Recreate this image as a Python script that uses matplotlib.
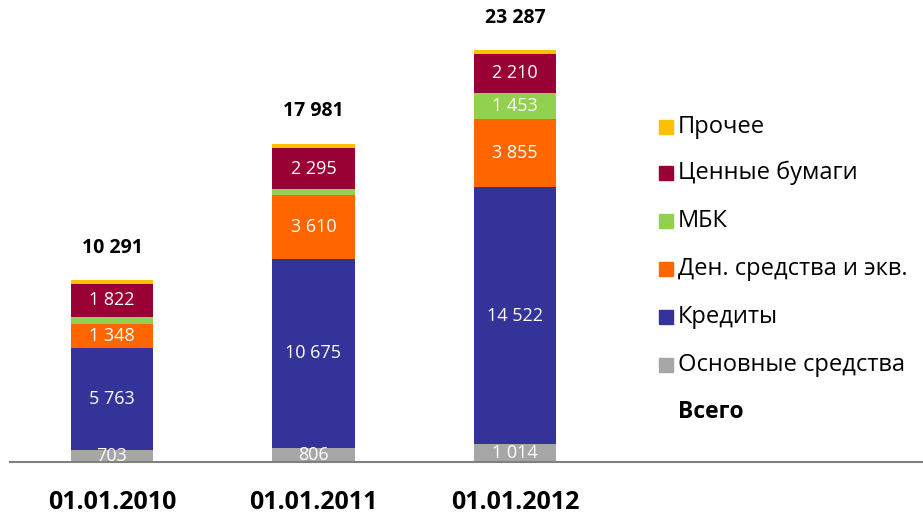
import matplotlib
matplotlib.use("Agg")
import matplotlib.pyplot as plt
from matplotlib.patches import Rectangle

plt.rcParams["font.family"] = ["Open Sans", "DejaVu Sans"]

dates = ["01.01.2010", "01.01.2011", "01.01.2012"]
osnovnye = [703, 806, 1014]
kredity = [5763, 10675, 14522]
den_sredstva = [1348, 3610, 3855]
mbk = [400, 340, 1453]
cennye = [1822, 2295, 2210]
prochee = [255, 255, 233]
totals = [10291, 17981, 23287]

series = [
    ("Основные средства", osnovnye, "#A6A6A6", True),
    ("Кредиты", kredity, "#333399", True),
    ("Ден. средства и экв.", den_sredstva, "#FF6600", True),
    ("МБК", mbk, "#92D050", False),
    ("Ценные бумаги", cennye, "#990033", True),
    ("Прочее", prochee, "#FFC000", False),
]

def fmt(v):
    return f"{v:,}".replace(",", " ")

fig = plt.figure(figsize=(9.23, 5.18), dpi=100)
ax = fig.add_axes([10 / 923, 56 / 518, 913 / 923, 462 / 518])
x = list(range(len(dates)))
bottom = [0] * len(dates)
for name, vals, col, show in series:
    ax.bar(x, vals, width=0.41, bottom=bottom, color=col, edgecolor="none")
    for i, v in enumerate(vals):
        if show or v > 1000:
            ax.text(i, bottom[i] + v / 2, fmt(v), ha="center", va="center",
                    color="white", fontsize=13)
    bottom = [b + v for b, v in zip(bottom, vals)]

for i, t in enumerate(totals):
    ax.annotate(fmt(t), (i, t), xytext=(0, 16), textcoords="offset points",
                ha="center", va="bottom", fontsize=14, fontweight="bold")

ax.set_xlim(-0.506, 4.025)
ax.set_ylim(0, 26100)
for s in ["top", "right", "left"]:
    ax.spines[s].set_visible(False)
ax.spines["bottom"].set_color("#808080")
ax.spines["bottom"].set_linewidth(1.5)
ax.set_yticks([])
ax.set_xticks(x)
ax.set_xticklabels(dates, fontsize=18, fontweight="bold")
ax.tick_params(axis="x", length=0, pad=20)

# legend, drawn by hand
ys = [127, 173, 221, 269, 317, 365]
for (name, vals, col, show), yy in zip(reversed(series), ys):
    fig.add_artist(Rectangle((659 / 923, 1 - (yy + 7) / 518), 14 / 923, 14 / 518,
                             color=col, transform=fig.transFigure))
    fig.text(678 / 923, 1 - yy / 518, name, fontsize=17, va="center")
fig.text(678 / 923, 1 - 412 / 518, "Всего", fontsize=16.5, fontweight="bold", va="center")

fig.savefig("out.png", dpi=100)
print("wrote out.png")
